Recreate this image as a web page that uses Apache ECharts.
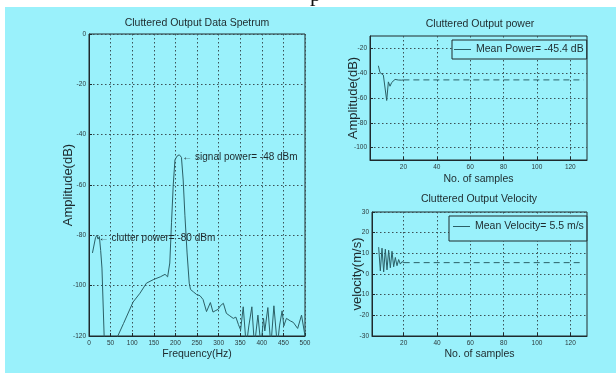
<!DOCTYPE html>
<html>
<head>
<meta charset="utf-8">
<script src="https://cdn.jsdelivr.net/npm/echarts@6/dist/echarts.min.js"></script>
<style>
  html, body { margin: 0; padding: 0; background: #ffffff; }
  #chart { width: 616px; height: 373px; }
</style>
</head>
<body>
<div id="chart"></div>
<script>
// Spectrum of the cluttered output (frequency in Hz, amplitude in dB)
const spectrumFreqHz = [8, 15, 18, 21, 24, 27, 30, 36, 50, 64, 80, 102, 118, 133, 150, 165, 176, 182, 187, 191, 195, 199, 204, 209, 214, 218, 222, 227, 232, 235, 242, 249, 257, 264, 272, 281, 287, 292, 299, 304, 311, 318, 326, 334, 340, 346, 351, 357, 364, 370, 377, 383, 391, 398, 404, 407, 414, 421, 428, 436, 441, 447, 451, 457, 466, 473, 483, 492, 500];
const spectrumDb = [-87, -81, -80, -81.5, -80.5, -86, -93, -125, -140, -121, -115, -106.5, -103, -99, -97.5, -96.5, -95.5, -96.5, -91, -75, -60, -50, -48.5, -48, -49, -58, -72, -87, -99, -101.5, -102.5, -103.5, -104, -105.5, -110.3, -106.7, -110.5, -110, -109.4, -108, -107, -111, -112, -113, -112.5, -115.5, -117.6, -108.4, -124, -116, -108.4, -124, -111.7, -124, -113, -118, -108.7, -124, -108, -124, -116, -110, -116, -113, -114, -114.6, -117, -111.7, -120];

// Annotated peaks
const signalPeak = { freq: 209, db: -48, text: '← signal power= -48 dBm' };
const clutterPeak = { freq: 18, db: -80, text: '← clutter power= -80 dBm' };

// Output power estimate per sample
const powerSamples = [5, 6, 7, 8, 9, 10, 11, 12, 13, 14, 15, 16, 17, 18, 19, 20];
const powerDb = [-34, -39.5, -40, -41.5, -42.5, -62, -47, -50.5, -47.5, -46.5, -45, -44.8, -45.5, -45.2, -45.6, -45.4];
const meanPowerDb = -45.4;

// Output velocity estimate per sample
const velocitySamples = [5, 6, 7, 8, 9, 10, 11, 12, 13, 14, 15, 16, 17, 18, 19, 20];
const velocityMs = [13, 1.5, 12.5, 1, 12, 2, 11.5, 3, 11, 3.5, 8, 4, 7, 4.8, 6, 5.5];
const meanVelocityMs = 5.5;

// Samples over which the steady-state mean is drawn
const steadyStart = 20;
const lastSample = 128;

// Tick values
const sampleTicks = [20, 40, 60, 80, 100, 120];
const powerTicks = [-100, -80, -60, -40, -20];

const FONT = '"Liberation Sans", Arial, sans-serif';
const INK = '#1e2a2d';
const TRACE = '#2b5f66';
const TICK_TEXT = '#2c3a3d';
const PANEL = '#9af1fb';

const dotted = { show: true, lineStyle: { color: '#3b5156', width: 1, type: [1.5, 2.5] } };
const tickLabel = { fontSize: 6.5, color: TICK_TEXT, fontFamily: FONT };
const xName = { fontSize: 10.5, color: INK, fontFamily: FONT };
const yName = { fontSize: 13, color: INK, fontFamily: FONT };
const titleText = { fontSize: 10.5, fontWeight: 'normal', color: INK, fontFamily: FONT };
const frameLine = { onZero: false, lineStyle: { color: INK } };
const innerTick = { inside: true, length: 3, lineStyle: { color: INK } };

function pairs(xs, ys) { return xs.map((x, i) => [x, ys[i]]); }

const powerName = 'Mean Power= ' + meanPowerDb + ' dB';
const velocityName = 'Mean Velocity= ' + meanVelocityMs + ' m/s';

const chart = echarts.init(document.getElementById('chart'), null, { renderer: 'canvas' });

chart.setOption({
  animation: false,
  backgroundColor: '#ffffff',
  graphic: [
    { type: 'rect', shape: { x: 5, y: 7, width: 611, height: 366 }, style: { fill: PANEL }, z: -10 },
    { type: 'text', x: 310, y: 6, style: { text: 'p', font: '22px "Liberation Serif", serif', fill: '#111', verticalAlign: 'bottom' }, z: -5 }
  ],
  title: [
    { text: 'Cluttered Output Data Spetrum', left: 197, top: 18, padding: 0, textAlign: 'center', textStyle: titleText },
    { text: 'Cluttered Output power', left: 480, top: 19, padding: 0, textAlign: 'center', textStyle: titleText },
    { text: 'Cluttered Output Velocity', left: 479, top: 194, padding: 0, textAlign: 'center', textStyle: titleText }
  ],
  legend: [
    { data: [powerName], left: 452, top: 40, padding: [4, 3, 4, 2], icon: 'rect', itemWidth: 17, itemHeight: 1,
      borderColor: INK, borderWidth: 1, borderRadius: 0, backgroundColor: PANEL,
      textStyle: { fontSize: 10.5, color: INK, fontFamily: FONT } },
    { data: [velocityName], left: 449, top: 216, padding: [5, 3, 9, 4], icon: 'rect', itemWidth: 17, itemHeight: 1,
      borderColor: INK, borderWidth: 1, borderRadius: 0, backgroundColor: PANEL,
      textStyle: { fontSize: 10.5, color: INK, fontFamily: FONT } }
  ],
  grid: [
    { left: 89, top: 34, width: 216, height: 302, show: true, borderColor: INK, borderWidth: 1, backgroundColor: 'transparent' },
    { left: 370, top: 36, width: 217, height: 124, show: true, borderColor: INK, borderWidth: 1, backgroundColor: 'transparent' },
    { left: 372, top: 212, width: 215, height: 124, show: true, borderColor: INK, borderWidth: 1, backgroundColor: 'transparent' }
  ],
  xAxis: [
    { gridIndex: 0, type: 'value', min: 0, max: 500, interval: 50,
      axisLine: frameLine, axisTick: innerTick,
      axisLabel: Object.assign({ margin: 4 }, tickLabel), splitLine: dotted,
      name: 'Frequency(Hz)', nameLocation: 'middle', nameGap: 13, nameMoveOverlap: false, nameTextStyle: xName },
    { gridIndex: 1, type: 'value', min: 0, max: 130,
      axisLine: frameLine, axisTick: Object.assign({ customValues: sampleTicks }, innerTick),
      axisLabel: Object.assign({ margin: 4, customValues: sampleTicks }, tickLabel), splitLine: dotted,
      name: 'No. of samples', nameLocation: 'middle', nameGap: 14, nameMoveOverlap: false, nameTextStyle: xName },
    { gridIndex: 2, type: 'value', min: 1, max: 130,
      axisLine: frameLine, axisTick: Object.assign({ customValues: sampleTicks }, innerTick),
      axisLabel: Object.assign({ margin: 4, customValues: sampleTicks }, tickLabel), splitLine: dotted,
      name: 'No. of samples', nameLocation: 'middle', nameGap: 13, nameMoveOverlap: false, nameTextStyle: xName }
  ],
  yAxis: [
    { gridIndex: 0, type: 'value', min: -120, max: 0, interval: 20,
      axisLine: frameLine, axisTick: innerTick,
      axisLabel: Object.assign({ margin: 3 }, tickLabel), splitLine: dotted,
      name: 'Amplitude(dB)', nameLocation: 'middle', nameGap: 14.5, nameMoveOverlap: false, nameTextStyle: yName },
    { gridIndex: 1, type: 'value', min: -110, max: -10,
      axisLine: frameLine, axisTick: Object.assign({ customValues: powerTicks }, innerTick),
      axisLabel: Object.assign({ margin: 3, customValues: powerTicks }, tickLabel), splitLine: dotted,
      name: 'Amplitude(dB)', nameLocation: 'middle', nameGap: 10.5, nameMoveOverlap: false, nameTextStyle: yName },
    { gridIndex: 2, type: 'value', min: -30, max: 30, interval: 10,
      axisLine: frameLine, axisTick: innerTick,
      axisLabel: Object.assign({ margin: 3 }, tickLabel), splitLine: dotted,
      name: 'velocity(m/s)', nameLocation: 'middle', nameGap: 8.5, nameMoveOverlap: false, nameTextStyle: yName }
  ],
  series: [
    { type: 'line', name: 'spectrum', xAxisIndex: 0, yAxisIndex: 0, data: pairs(spectrumFreqHz, spectrumDb),
      symbol: 'none', clip: true, lineStyle: { color: TRACE, width: 1 },
      markPoint: {
        symbol: 'circle', symbolSize: 0, silent: true,
        label: { show: true, position: 'right', distance: 0, color: INK, fontSize: 10, fontFamily: FONT },
        data: [
          { coord: [signalPeak.freq, signalPeak.db], label: { formatter: signalPeak.text, offset: [3, 2] } },
          { coord: [clutterPeak.freq, clutterPeak.db], label: { formatter: clutterPeak.text, offset: [2, 3] } }
        ]
      } },
    { type: 'line', name: powerName, xAxisIndex: 1, yAxisIndex: 1, data: pairs(powerSamples, powerDb),
      symbol: 'none', lineStyle: { color: TRACE, width: 1 }, itemStyle: { color: TRACE } },
    { type: 'line', name: 'power mean', xAxisIndex: 1, yAxisIndex: 1,
      data: [[steadyStart, meanPowerDb], [lastSample, meanPowerDb]],
      symbol: 'none', lineStyle: { color: TRACE, width: 1, type: [6, 4] } },
    { type: 'line', name: velocityName, xAxisIndex: 2, yAxisIndex: 2, data: pairs(velocitySamples, velocityMs),
      symbol: 'none', lineStyle: { color: TRACE, width: 1 }, itemStyle: { color: TRACE } },
    { type: 'line', name: 'velocity mean', xAxisIndex: 2, yAxisIndex: 2,
      data: [[steadyStart, meanVelocityMs], [lastSample, meanVelocityMs]],
      symbol: 'none', lineStyle: { color: TRACE, width: 1, type: [6, 4] } }
  ]
});
</script>
</body>
</html>
